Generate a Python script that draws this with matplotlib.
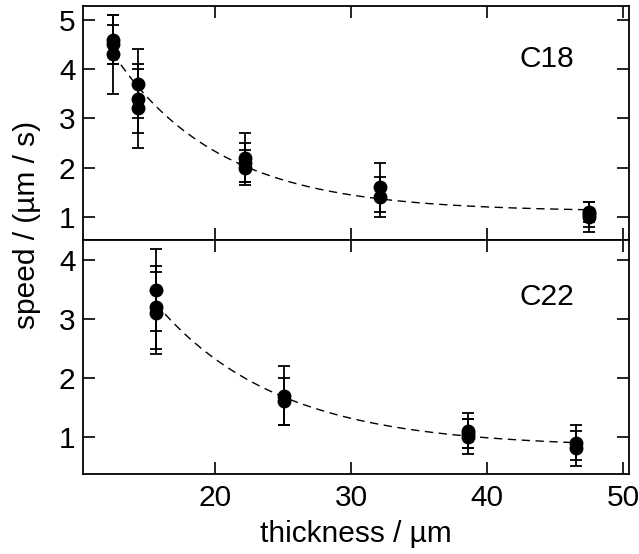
import numpy as np
import matplotlib
matplotlib.use('Agg')
import matplotlib.pyplot as plt
from matplotlib import rcParams

# C18 film (top panel)
c18_thickness = [12.5, 12.5, 12.5, 14.3, 14.3, 14.3, 22.2, 22.2, 22.2, 32.1, 32.1, 47.5, 47.5, 47.5]
c18_speed     = [4.6, 4.5, 4.3, 3.7, 3.4, 3.2, 2.2, 2.1, 2.0, 1.6, 1.4, 1.1, 1.05, 1.0]
c18_err       = [0.5, 0.4, 0.8, 0.7, 0.7, 0.8, 0.5, 0.4, 0.35, 0.5, 0.4, 0.2, 0.25, 0.3]

# C22 film (bottom panel)
c22_thickness = [15.65, 15.65, 15.65, 25.1, 25.1, 38.6, 38.6, 38.6, 46.5, 46.5]
c22_speed     = [3.5, 3.2, 3.1, 1.7, 1.6, 1.1, 1.05, 1.0, 0.9, 0.8]
c22_err       = [0.7, 0.7, 0.7, 0.5, 0.4, 0.3, 0.25, 0.3, 0.3, 0.3]

x_ticks = [20, 30, 40, 50]
c18_yticks = [1, 2, 3, 4, 5]
c22_yticks = [1, 2, 3, 4]

FONT = 21.5


def setup():
    rcParams['font.family'] = ['Liberation Sans', 'DejaVu Sans']
    rcParams['axes.linewidth'] = 1.3
    for ax in ['xtick', 'ytick']:
        rcParams[ax + '.direction'] = 'in'
        rcParams[ax + '.major.size'] = 8.5
        rcParams[ax + '.major.width'] = 1.2
        rcParams[ax + '.labelsize'] = FONT
    rcParams['xtick.major.pad'] = 7
    rcParams['ytick.major.pad'] = 5.5
    rcParams['xtick.top'] = True
    rcParams['ytick.right'] = True


def exp_fit(x, y):
    # y = a + b*exp(-x/c), scan c and solve a, b by least squares
    x = np.asarray(x, float)
    y = np.asarray(y, float)
    best = None
    for c in np.linspace(2, 40, 800):
        A = np.column_stack([np.ones_like(x), np.exp(-x / c)])
        coef, *_ = np.linalg.lstsq(A, y, rcond=None)
        res = np.sum((A @ coef - y) ** 2)
        if best is None or res < best[0]:
            best = (res, coef[0], coef[1], c)
    _, a, b, c = best
    return lambda t: a + b * np.exp(-t / c)


def draw(ax, x, y, err, label, label_y, yticks, ylim):
    ax.errorbar(x, y, yerr=err, fmt='o', color='black', markersize=9,
                elinewidth=1.3, capsize=4.5, capthick=1.3)
    f = exp_fit(x, y)
    xs = np.linspace(min(x), max(x), 200)
    ax.plot(xs, f(xs), '--', color='black', linewidth=1.0, dashes=(6, 4))
    ax.set_xlim(10.3, 50.4)
    ax.set_ylim(*ylim)
    ax.set_xticks(x_ticks)
    ax.set_yticks(yticks)
    ax.text(0.85, label_y, label, transform=ax.transAxes, fontsize=FONT,
            ha='center', va='center')


def main():
    setup()
    fig = plt.figure(figsize=(6.39, 5.54), dpi=100)
    ax1 = fig.add_axes([0.130, 0.567, 0.854, 0.422])
    ax2 = fig.add_axes([0.130, 0.144, 0.854, 0.423])

    draw(ax1, c18_thickness, c18_speed, c18_err, 'C18', 0.775, c18_yticks, (0.53, 5.28))
    draw(ax2, c22_thickness, c22_speed, c22_err, 'C22', 0.757, c22_yticks, (0.36, 4.35))
    ax1.tick_params(labelbottom=False)

    ax2.set_xlabel('thickness / \u00b5m', fontsize=FONT, labelpad=6)
    fig.text(0.042, 0.594, 'speed / (\u00b5m / s)', rotation=90, fontsize=FONT,
             ha='center', va='center')

    fig.savefig('out.png', dpi=100)
    plt.close(fig)


if __name__ == '__main__':
    main()
